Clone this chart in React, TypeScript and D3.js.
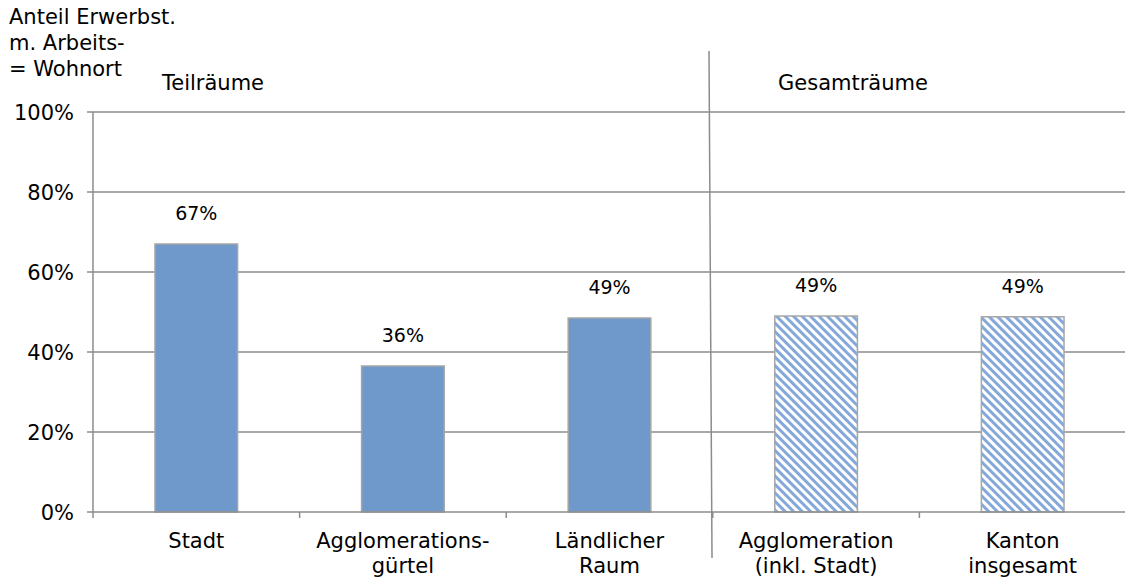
import React from "react";
import * as d3 from "d3";

const categories: string[][] = [
  ["Stadt"],
  ["Agglomerations-", "gürtel"],
  ["Ländlicher", "Raum"],
  ["Agglomeration", "(inkl. Stadt)"],
  ["Kanton", "insgesamt"],
];
const values: number[] = [0.67, 0.365, 0.485, 0.49, 0.488];
const valueLabels: string[] = ["67%", "36%", "49%", "49%", "49%"];
const hatched: boolean[] = [false, false, false, true, true];
const yTicks: number[] = [0, 0.2, 0.4, 0.6, 0.8, 1.0];
const titleLines: string[] = ["Anteil Erwerbst.", "m. Arbeits-", "= Wohnort"];
const groupLabels: string[] = ["Teilräume", "Gesamträume"];

const W = 1125;
const H = 579;
const FONT = "'DejaVu Sans', Verdana, sans-serif";

export default function App() {
  const left = 93;
  const right = 1126;
  const top = 112;
  const bottom = 512;
  const idx = categories.map((_, i) => i);
  const x = d3.scaleBand<number>().domain(idx).range([left, right]).paddingInner(0.6).paddingOuter(0.3);
  const y = d3.scaleLinear().domain([0, 1]).range([bottom, top]);
  const step = x.step();
  const boundaries = d3.range(categories.length).map((i) => left + i * step);
  const grid = "#8c8c8c";

  return (
    <svg width={W} height={H} style={{ position: "absolute", left: 0, top: 0, background: "#fff" }} fontFamily={FONT}>
      <defs>
        <pattern id="hatch" patternUnits="userSpaceOnUse" width={6} height={6} patternTransform="rotate(-45)">
          <rect width={6} height={6} fill="#ffffff" />
          <rect width={3} height={6} fill="#83a8d9" />
        </pattern>
      </defs>
      {titleLines.map((t, i) => (
        <text key={t} x={9} y={24 + i * 26} fontSize={21} fill="#000">{t}</text>
      ))}
      <text x={162} y={90} fontSize={21} fill="#000">{groupLabels[0]}</text>
      <text x={778} y={90} fontSize={21} fill="#000">{groupLabels[1]}</text>

      {yTicks.filter((t) => t > 0).map((t) => (
        <line key={"g" + t} x1={left} x2={W} y1={y(t)} y2={y(t)} stroke={grid} strokeWidth={1.5} />
      ))}
      {yTicks.map((t) => (
        <g key={"t" + t}>
          <line x1={left - 6} x2={left} y1={y(t)} y2={y(t)} stroke={grid} strokeWidth={1.5} />
          <text x={74} y={y(t) + 7.5} fontSize={21} textAnchor="end" fill="#000">{d3.format(".0%")(t)}</text>
        </g>
      ))}
      <line x1={left} x2={left} y1={top} y2={bottom} stroke={grid} strokeWidth={1.5} />

      {idx.map((i) => (
        <rect
          key={"b" + i}
          x={x(i)!}
          y={y(values[i])}
          width={x.bandwidth()}
          height={bottom - y(values[i])}
          fill={hatched[i] ? "url(#hatch)" : "#7099cb"}
          stroke="#a6a6a6"
          strokeWidth={1.5}
        />
      ))}
      <line x1={left} x2={W} y1={bottom} y2={bottom} stroke={grid} strokeWidth={1.5} />
      {boundaries.map((b) => (
        <line key={"xt" + b} x1={b} x2={b} y1={bottom} y2={bottom + 6} stroke={grid} strokeWidth={1.5} />
      ))}
      {idx.map((i) => (
        <text key={"v" + i} x={x(i)! + x.bandwidth() / 2} y={y(values[i]) - 24} fontSize={19} textAnchor="middle" fill="#000">
          {valueLabels[i]}
        </text>
      ))}
      {idx.map((i) => (
        <text key={"c" + i} x={x(i)! + x.bandwidth() / 2} y={548} fontSize={21} textAnchor="middle" fill="#000">
          {categories[i].map((l, k) => (
            <tspan key={k} x={x(i)! + x.bandwidth() / 2} dy={k === 0 ? 0 : 25}>{l}</tspan>
          ))}
        </text>
      ))}
      <line x1={709} x2={712} y1={51} y2={558} stroke={grid} strokeWidth={1.5} />
    </svg>
  );
}
